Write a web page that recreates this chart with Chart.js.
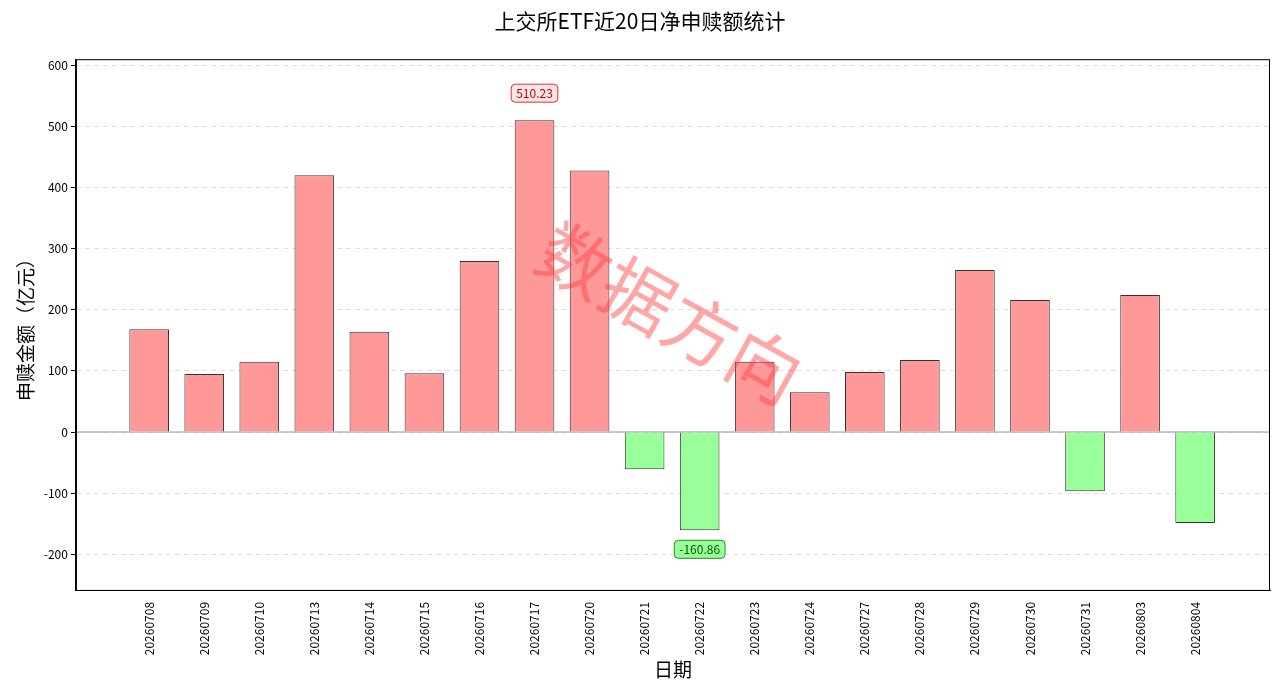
<!DOCTYPE html>
<html><head><meta charset="utf-8">
<script src="https://cdn.jsdelivr.net/npm/chart.js@4"></script>
<style>html,body{margin:0;background:#fff}#w{width:1280px;height:696px}</style>
</head><body><div id="w"><canvas id="c"></canvas></div>
<script>
const categories=['20260708','20260709','20260710','20260713','20260714','20260715','20260716','20260717','20260720','20260721','20260722','20260723','20260724','20260727','20260728','20260729','20260730','20260731','20260803','20260804'];
const values=[168,95,115,420,164,96,280,510.23,428,-61,-160.86,115,65,98,118,265,216,-97,224,-149];
const yTicks=[-200,-100,0,100,200,300,400,500,600];
const F='"Noto Sans CJK SC","DejaVu Sans",sans-serif';
const extras={id:'extras',
 beforeDatasetsDraw(ch){const {ctx,chartArea:a,scales:{y}}=ch;const z=y.getPixelForValue(0);
  ctx.save();ctx.strokeStyle='#999';ctx.lineWidth=1;ctx.beginPath();ctx.moveTo(a.left,z);ctx.lineTo(a.right,z);ctx.stroke();ctx.restore();},
 afterDatasetsDraw(ch){const {ctx,chartArea:a,scales:{x,y}}=ch;
  let mi=0,ni=0;values.forEach((v,i)=>{if(v>values[mi])mi=i;if(v<values[ni])ni=i;});
  const box=(i,off,bg,bd,tc)=>{const t=values[i].toFixed(2);ctx.font='12px '+F;const w=ctx.measureText(t).width+10;
   const cx=x.getPixelForValue(i),cy=y.getPixelForValue(values[i])+off;
   ctx.beginPath();ctx.roundRect(cx-w/2,cy-9,w,18,4);ctx.fillStyle=bg;ctx.fill();ctx.strokeStyle=bd;ctx.lineWidth=1;ctx.stroke();
   ctx.fillStyle=tc;ctx.textAlign='center';ctx.textBaseline='middle';ctx.fillText(t,cx,cy);};
  box(mi,-27,'#ffe6e6','#e03030','#c00000');box(ni,19,'#99ff99','#209020','#006000');
  ctx.save();ctx.strokeStyle='#000';ctx.lineWidth=1;ctx.strokeRect(a.left+0.5,a.top+0.5,a.right-a.left-1,a.bottom-a.top-1);ctx.restore();
  ctx.save();ctx.translate(670,313);ctx.rotate(Math.PI/6.2);ctx.font='72px '+F;ctx.fillStyle='rgba(255,60,60,0.45)';
  ctx.textAlign='center';ctx.textBaseline='middle';ctx.fillText('数据方向',0,0);ctx.restore();}};
new Chart(document.getElementById('c'),{type:'bar',
 data:{datasets:[{data:values.map((v,i)=>({x:i,y:v})),
  backgroundColor:values.map(v=>v>=0?'#ff9999':'#99ff99'),borderColor:'#333',borderWidth:1,
  barPercentage:0.72,categoryPercentage:1}]},
 options:{responsive:true,maintainAspectRatio:false,animation:false,
  layout:{padding:{left:10,right:10,top:0,bottom:15}},
  plugins:{legend:{display:false},tooltip:{enabled:false},
   title:{display:true,text:'上交所ETF近20日净申赎额统计',color:'#000',font:{family:F,size:21,weight:'normal'},padding:{top:8,bottom:26}}},
  scales:{
   x:{type:'linear',offset:false,min:-1.33,max:20.36,grid:{display:false,drawTicks:true},border:{color:'#000'},
    afterBuildTicks(s){s.ticks=categories.map((c,i)=>({value:i}));},
    ticks:{color:'#000',font:{family:F,size:12},minRotation:90,maxRotation:90,callback:(v)=>categories[v]},
    title:{display:true,text:'日期',color:'#000',font:{family:F,size:19},padding:0}},
   y:{min:-260,max:610,border:{color:'#000',dash:[5,4]},
    afterBuildTicks(s){s.ticks=yTicks.map(v=>({value:v}));},
    grid:{color:'rgba(0,0,0,0.12)',tickColor:'#000',tickLength:5},
    ticks:{color:'#000',font:{family:F,size:12}},
    title:{display:true,text:'申赎金额（亿元）',color:'#000',font:{family:F,size:19}}}}},
 plugins:[extras]});
</script></body></html>
